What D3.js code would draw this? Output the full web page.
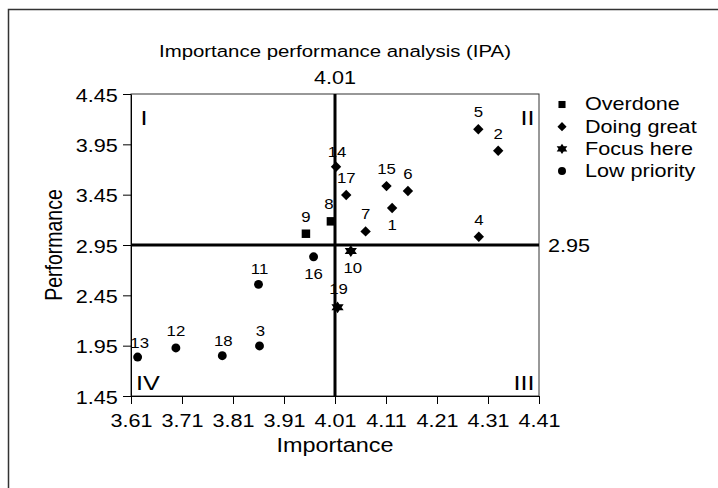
<!DOCTYPE html>
<html><head><meta charset="utf-8">
<script src="https://cdn.jsdelivr.net/npm/d3@7"></script>
<style>
html,body{margin:0;padding:0;background:#fff;}
svg{display:block;font-family:"Liberation Sans",Arial,sans-serif;}
</style></head>
<body><svg id="c" width="718" height="488"></svg>
<script>
const ids = [1,2,3,4,5,6,7,8,9,10,11,12,13,14,15,16,17,18,19];
const importance = [4.122,4.330,3.862,4.292,4.291,4.153,4.070,4.002,3.953,4.041,3.860,3.698,3.623,4.012,4.111,3.968,4.032,3.789,4.015];
const performance = [3.317,3.886,1.947,3.032,4.100,3.486,3.085,3.185,3.062,2.890,2.559,1.927,1.837,3.727,3.535,2.833,3.446,1.850,2.331];
const groups = ["Doing great","Doing great","Low priority","Doing great","Doing great","Doing great","Doing great","Overdone","Overdone","Focus here","Low priority","Low priority","Low priority","Doing great","Doing great","Low priority","Doing great","Low priority","Focus here"];
const categories = ["Overdone","Doing great","Focus here","Low priority"];
const xTicks = [3.61,3.71,3.81,3.91,4.01,4.11,4.21,4.31,4.41];
const yTicks = [1.45,1.95,2.45,2.95,3.45,3.95,4.45];
const meanImportance = 4.01;
const meanPerformance = 2.95;
const quadrants = ["I","II","III","IV"];
const title = "Importance performance analysis (IPA)";

// label placement: ids whose label sits below the marker, and small [dx,dy] nudges
const labelBelow = new Set([1,10,16]);
const labelNudge = {8:[-2,0],10:[2,0],13:[2,3],14:[1,2],11:[1,2],18:[1,2],3:[1,2],19:[1,-1]};

const SX = 1.2; // horizontal glyph stretch of the reference
const svg = d3.select("#c");
const L=131,R=539,T=94,B=396;
const x = d3.scaleLinear().domain([3.61,4.41]).range([L,R]);
const y = d3.scaleLinear().domain([1.45,4.45]).range([B,T]);

function txt(px,py,str,size,anchor,extra){
  return svg.append("text")
    .attr("transform",`translate(${px},${py}) scale(${SX},1)${extra||""}`)
    .attr("text-anchor",anchor||"start").attr("font-size",size).attr("fill","#000").text(str);
}

// outer frame (partial)
svg.append("path").attr("d","M8.5,488V9.5H718").attr("fill","none").attr("stroke","#333").attr("stroke-width",1.5);

// title
txt(335,57,title,17,"middle");

// plot frame
svg.append("rect").attr("x",L).attr("y",T).attr("width",R-L).attr("height",B-T)
  .attr("fill","none").attr("stroke","#333").attr("stroke-width",1);

// axes
const fmt = d3.format(".2f");
const gx = svg.append("g").attr("transform",`translate(0,${B})`)
  .call(d3.axisBottom(x).tickValues(xTicks).tickFormat(fmt).tickSize(8).tickSizeOuter(0));
const gy = svg.append("g").attr("transform",`translate(${L},0)`)
  .call(d3.axisLeft(y).tickValues(yTicks).tickFormat(fmt).tickSize(8).tickSizeOuter(0));
[gx,gy].forEach(g=>{
  g.select(".domain").attr("stroke","#000");
  g.selectAll(".tick line").attr("stroke","#000");
  g.selectAll(".tick text").attr("font-size",18).attr("font-family","Liberation Sans, Arial, sans-serif")
    .attr("fill","#000").attr("transform",`scale(${SX},1)`);
});
gx.selectAll(".tick text").attr("dy",20);
gy.selectAll(".tick text").attr("dy","0.4em");

// axis titles
txt(335,452,"Importance",19.5,"middle");
svg.append("text").attr("transform",`translate(61.5,245) scale(${SX},1) rotate(-90)`)
  .attr("text-anchor","middle").attr("font-size",19.5).text("Performance");

// mean lines
svg.append("line").attr("x1",x(meanImportance)).attr("x2",x(meanImportance)).attr("y1",T).attr("y2",B)
  .attr("stroke","#000").attr("stroke-width",3);
svg.append("line").attr("x1",L).attr("x2",R).attr("y1",y(meanPerformance)).attr("y2",y(meanPerformance))
  .attr("stroke","#000").attr("stroke-width",3);
txt(x(meanImportance),T-10,fmt(meanImportance),18,"middle");
txt(R+9,y(meanPerformance)+6.5,fmt(meanPerformance),18,"start");

// quadrant labels
const qpos = [[144,125,"middle"],[534.5,125,"end"],[534.5,390,"end"],[136,390,"start"]];
quadrants.forEach((q,i)=>txt(qpos[i][0],qpos[i][1],q,21,qpos[i][2]));

// symbols
const hexagram = {draw(ctx,size){
  const r = Math.sqrt(size/2.6);
  for(let t=0;t<2;t++){
    for(let k=0;k<3;k++){
      const a = (t?Math.PI/2:-Math.PI/2) + k*2*Math.PI/3;
      const px=r*Math.cos(a), py=r*Math.sin(a);
      if(k===0) ctx.moveTo(px,py); else ctx.lineTo(px,py);
    }
    ctx.closePath();
  }
}};
const diamond = {draw(ctx,size){
  const h = Math.sqrt(size/2);
  ctx.moveTo(0,-h); ctx.lineTo(h,0); ctx.lineTo(0,h); ctx.lineTo(-h,0); ctx.closePath();
}};
const symType = {"Overdone":d3.symbolSquare,"Doing great":diamond,"Focus here":hexagram,"Low priority":d3.symbolCircle};
const symSize = {"Overdone":72,"Doing great":54,"Focus here":90,"Low priority":62};
const legSize = {"Overdone":50,"Doing great":42,"Focus here":68,"Low priority":50};
const symStretch = g => g==="Focus here" ? ` scale(${SX},1)` : "";

const pts = ids.map((id,i)=>({id,x:importance[i],y:performance[i],g:groups[i]}));
svg.append("g").selectAll("path").data(pts).join("path")
  .attr("transform",d=>`translate(${x(d.x)},${y(d.y)})${symStretch(d.g)}`)
  .attr("d",d=>d3.symbol().type(symType[d.g]).size(symSize[d.g])()).attr("fill","#000");
pts.forEach(d=>{
  const n = labelNudge[d.id]||[0,0];
  txt(x(d.x)+n[0], y(d.y)+(labelBelow.has(d.id)?22:-12)+n[1], d.id, 14, "middle");
});

// legend
categories.forEach((c,i)=>{
  const yy = 104 + i*22.2;
  svg.append("path").attr("transform",`translate(562,${yy+0.5})${symStretch(c)}`)
    .attr("d",d3.symbol().type(symType[c]).size(legSize[c])()).attr("fill","#000");
  txt(585,yy+6.4,c,18,"start");
});
</script></body></html>
